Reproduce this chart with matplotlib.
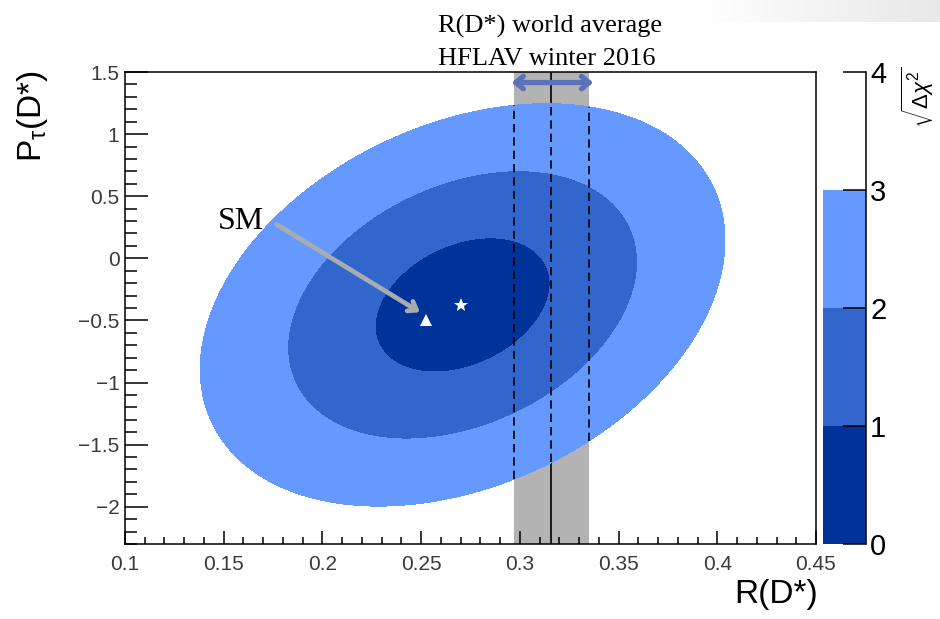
import numpy as np
import matplotlib.pyplot as plt
from matplotlib.colors import ListedColormap, BoundaryNorm, LinearSegmentedColormap
from matplotlib.ticker import MultipleLocator, FuncFormatter

plt.rcParams['font.family'] = ['Liberation Sans', 'DejaVu Sans']
plt.rcParams['mathtext.fontset'] = 'custom'
plt.rcParams['mathtext.rm'] = 'Liberation Sans'
plt.rcParams['mathtext.it'] = 'Liberation Sans:italic'

# fit result (centre, widths, correlation)
FIT_R = 0.271
FIT_P = -0.375
SIG_R = 0.0443
SIG_P = 0.54
RHO = 0.32

BEST_R, BEST_P = 0.270, -0.375
SM_R, SM_P = 0.2525, -0.50

# HFLAV winter 2016 R(D*) average
WA_R = 0.316
WA_ERR = 0.019

LEVELS = [0, 1, 2, 3]
CB_TICKS = [0, 1, 2, 3, 4]
FILL_COLORS = ['#003399', '#3366cc', '#6699ff']

X_LIM = (0.1, 0.45)
Y_LIM = (-2.3, 1.5)


def contour_y(x, k):
    u = (x - FIT_R) / SIG_R
    d = np.sqrt((1 - RHO**2) * (k**2 - u**2))
    return FIT_P + SIG_P * (RHO * u - d), FIT_P + SIG_P * (RHO * u + d)


fig = plt.figure(figsize=(9.4, 6.19), dpi=100)

# faint slide background in the top right corner
gax = fig.add_axes([700 / 940, 1 - 22 / 619, 240 / 940, 22 / 619])
gax.imshow(np.linspace(0, 1, 200)[None, :], aspect='auto',
           cmap=LinearSegmentedColormap.from_list('bg', ['white', '#e8e8e8']))
gax.axis('off')

ax = fig.add_axes([125 / 940, 1 - 544 / 619, 691 / 940, 472 / 619])

# world average band
ax.axvspan(WA_R - WA_ERR, WA_R + WA_ERR, color='#b3b3b3', lw=0, zorder=0)
ax.axvline(WA_R, color='k', lw=1.2, zorder=1)

xs = np.linspace(X_LIM[0], X_LIM[1], 700)
ys = np.linspace(Y_LIM[0], Y_LIM[1], 700)
X, Y = np.meshgrid(xs, ys)
dx = (X - FIT_R) / SIG_R
dy = (Y - FIT_P) / SIG_P
Z = np.sqrt((dx**2 - 2 * RHO * dx * dy + dy**2) / (1 - RHO**2))
ax.contourf(X, Y, Z, levels=LEVELS, colors=FILL_COLORS, zorder=2)

for xv in [WA_R - WA_ERR, WA_R, WA_R + WA_ERR]:
    lo, hi = contour_y(xv, 3)
    ax.plot([xv, xv], [lo, hi], color='k', lw=1.2, ls=(0, (5, 3)), zorder=3)

ax.annotate('', xy=(0.2958, 1.415), xytext=(0.3372, 1.415),
            arrowprops=dict(arrowstyle='<->,head_length=0.55,head_width=0.45',
                            color='#5b72b8', lw=3.8, shrinkA=0, shrinkB=0),
            zorder=4)

ax.plot(BEST_R, BEST_P, marker='*', color='white', ms=10, mew=0, zorder=5)
ax.plot(SM_R, SM_P, marker='^', color='white', ms=9, mew=0, zorder=5)

ax.annotate('', xy=(0.2494, -0.434), xytext=(0.1768, 0.272),
            arrowprops=dict(arrowstyle='->,head_length=0.55,head_width=0.4',
                            color='#a9acaf', lw=3.4, shrinkA=0, shrinkB=0),
            zorder=4)
ax.text(0.1471, 0.232, 'SM', family='Liberation Serif', fontsize=23,
        ha='left', va='baseline', zorder=6)

ax.set_xlim(*X_LIM)
ax.set_ylim(*Y_LIM)
ax.xaxis.set_major_locator(MultipleLocator(0.05))
ax.xaxis.set_minor_locator(MultipleLocator(0.01))
ax.yaxis.set_major_locator(MultipleLocator(0.5))
ax.yaxis.set_minor_locator(MultipleLocator(0.1))
fmt = FuncFormatter(lambda v, p: ('%g' % round(v, 3)).replace('-', '\u2212'))
ax.xaxis.set_major_formatter(fmt)
ax.yaxis.set_major_formatter(fmt)
ax.tick_params(which='both', direction='in', top=False, right=False,
               labelsize=15, labelcolor='#3a3a3a', width=1.1)
ax.tick_params(axis='x', which='major', length=9.5, pad=8)
ax.tick_params(axis='x', which='minor', length=5)
ax.tick_params(axis='y', which='major', length=16.5, pad=4)
ax.tick_params(axis='y', which='minor', length=8.5)
for s in ax.spines.values():
    s.set_linewidth(1.1)

# colour scale
cax = fig.add_axes([823 / 940, 1 - 544 / 619, 43 / 940, 472 / 619])
cmap = ListedColormap(FILL_COLORS + ['white'])
norm = BoundaryNorm(CB_TICKS, cmap.N)
cb = fig.colorbar(plt.cm.ScalarMappable(norm=norm, cmap=cmap), cax=cax,
                  ticks=CB_TICKS)
cb.outline.set_visible(False)
cax.spines['right'].set_visible(True)
cax.spines['right'].set_linewidth(1.1)
cax.tick_params(direction='in', length=16.5, width=1.1, labelsize=21, pad=3)
cax.minorticks_off()

fig.text(918 / 940, 1 - 66 / 619, r'$\sqrt{\Delta\chi^2}$', rotation=90,
         ha='center', va='top', fontsize=16)

fig.text(32 / 940, 1 - 70 / 619, r'P$_\mathrm{τ}$(D*)', rotation=90,
         ha='center', va='top', fontsize=24)
fig.text(818 / 940, 1 - 595 / 619, 'R(D*)', ha='right', va='center',
         fontsize=24)

fig.text(438 / 940, 1 - 33 / 619, 'R(D*) world average',
         family='Liberation Serif', fontsize=19, va='baseline')
fig.text(438 / 940, 1 - 65 / 619, 'HFLAV winter 2016',
         family='Liberation Serif', fontsize=19, va='baseline')

fig.savefig('out.png', dpi=100)
